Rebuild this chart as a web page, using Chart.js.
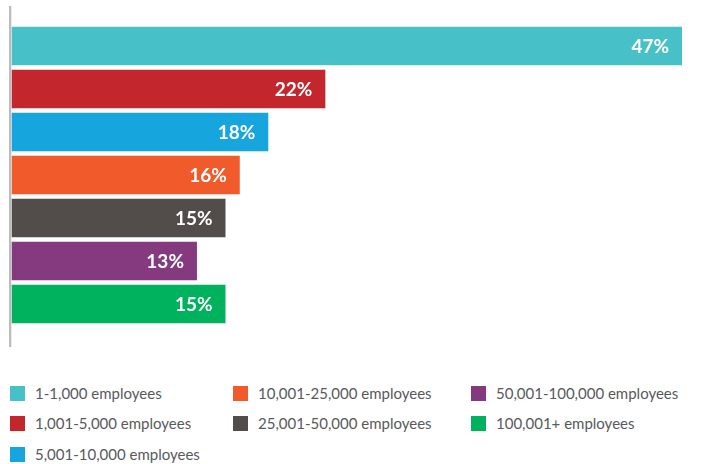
<!DOCTYPE html>
<html>
<head>
<meta charset="utf-8">
<script src="https://cdn.jsdelivr.net/npm/chart.js@4"></script>
<style>
  body { margin: 0; background: #fff; font-family: Lato, "Open Sans", sans-serif; }
  #wrap { position: relative; width: 701px; height: 464px; }
  #box { position: absolute; left: 0; top: 0; width: 701px; height: 350px; }
  #legend {
    position: absolute; left: 10px; top: 386px;
    display: grid; grid-template-columns: 223px 238px auto;
    grid-template-rows: repeat(3, 30.4px);
  }
  .item { display: flex; align-items: flex-start; font-size: 15px; color: #58595b; }
  .sw { width: 15px; height: 15px; margin-right: 10px; flex: none; }
  .item span { line-height: 15px; }
</style>
</head>
<body>
<div id="wrap">
  <div id="box"><canvas id="myChart"></canvas></div>
  <div id="legend"></div>
</div>
<script>
// Data
const categories = ['1-1,000 employees', '1,001-5,000 employees', '5,001-10,000 employees',
  '10,001-25,000 employees', '25,001-50,000 employees', '50,001-100,000 employees', '100,001+ employees'];
const values = [47, 22, 18, 16, 15, 13, 15];
const colors = ['#47c1c7', '#c4262e', '#16a5dc', '#f15a2b', '#524d4b', '#853a80', '#00b25d'];
// jumlah item legenda per kolom
const legendColumns = [3, 2, 2];

// garis sumbu kiri (lebih panjang dari area batang)
const axisLine = {
  id: 'axisLine',
  beforeDatasetsDraw(chart) {
    const ctx = chart.ctx, a = chart.chartArea;
    ctx.save();
    ctx.fillStyle = '#bcbcbc';
    ctx.fillRect(a.left - 2.5, a.top - 18.5, 2.3, a.bottom - a.top + 40);
    ctx.restore();
  }
};

// label persen di ujung batang
const barLabels = {
  id: 'barLabels',
  afterDatasetsDraw(chart) {
    const ctx = chart.ctx;
    ctx.save();
    ctx.font = 'bold 19px Lato';
    ctx.fillStyle = '#fff';
    ctx.textAlign = 'right';
    ctx.textBaseline = 'middle';
    chart.getDatasetMeta(0).data.forEach((bar, i) => {
      ctx.fillText(values[i] + '%', bar.x - 13, bar.y + 1);
    });
    ctx.restore();
  }
};

new Chart(document.getElementById('myChart'), {
  type: 'bar',
  data: {
    labels: categories,
    datasets: [{
      data: values,
      backgroundColor: colors,
      categoryPercentage: 1,
      barPercentage: 0.9
    }]
  },
  options: {
    indexAxis: 'y',
    responsive: true,
    maintainAspectRatio: false,
    animation: false,
    layout: { padding: { left: 11.5, right: 19, top: 24.5, bottom: 24.5 } },
    scales: {
      x: { display: false, min: 0, max: 47 },
      y: { display: false }
    },
    plugins: { legend: { display: false }, tooltip: { enabled: false } }
  },
  plugins: [axisLine, barLabels]
});

// legenda (urut per kolom)
const legend = document.getElementById('legend');
let idx = 0;
legendColumns.forEach((n, col) => {
  for (let row = 0; row < n; row++, idx++) {
    const el = document.createElement('div');
    el.className = 'item';
    el.style.gridColumn = col + 1;
    el.style.gridRow = row + 1;
    el.innerHTML = '<div class="sw" style="background:' + colors[idx] + '"></div><span>' + categories[idx] + '</span>';
    legend.appendChild(el);
  }
});
</script>
</body>
</html>
